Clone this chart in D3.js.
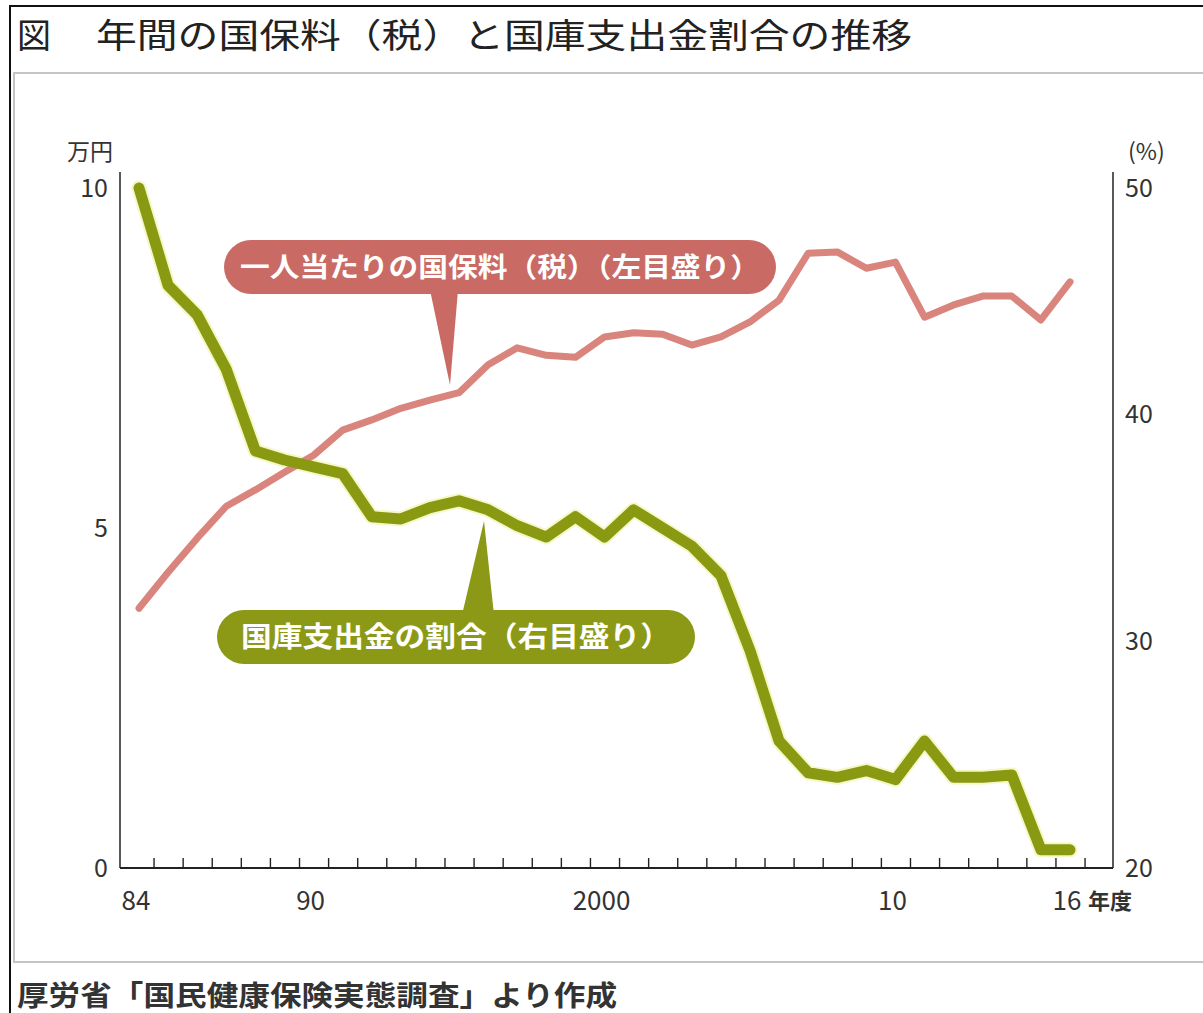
<!DOCTYPE html>
<html><head><meta charset="utf-8">
<script src="https://cdn.jsdelivr.net/npm/d3@7"></script>
<style>
html,body{margin:0;padding:0;background:#fff;}
text{font-family:"Noto Sans CJK JP","Noto Sans",sans-serif;}
</style></head>
<body>
<svg id="c" width="1203" height="1013"></svg>
<script>
// ---- data ----
const years = [1984,1985,1986,1987,1988,1989,1990,1991,1992,1993,1994,1995,1996,1997,1998,1999,
               2000,2001,2002,2003,2004,2005,2006,2007,2008,2009,2010,2011,2012,2013,2014,2015,2016];
// 一人当たりの国保料（税）万円 (left axis)
const premium = [3.82,4.35,4.85,5.32,5.56,5.82,6.07,6.44,6.59,6.76,6.88,6.99,7.40,7.65,7.54,7.51,
                 7.81,7.87,7.85,7.69,7.81,8.03,8.35,9.04,9.06,8.82,8.91,8.10,8.28,8.41,8.41,8.06,8.62];
// 国庫支出金の割合 % (right axis)
const subsidyShare = [50.0,45.7,44.4,42.0,38.4,38.0,37.7,37.4,35.5,35.4,35.9,36.2,35.8,35.1,34.6,35.5,
                      34.6,35.8,35.0,34.2,32.9,29.6,25.6,24.2,24.0,24.3,23.9,25.6,24.0,24.0,24.1,20.8,20.8];
const leftTicks = [0,5,10];
const rightTicks = [20,30,40,50];
const xLabelYears = [1984,1990,2000,2010,2016];
const xLabelTexts = ["84","90","2000","10","16"];
const titleMark = "図";
const titleText = "年間の国保料（税）と国庫支出金割合の推移";
const leftUnit = "万円";
const rightUnit = "(%)";
const xUnit = "年度";
const premiumLabel = "一人当たりの国保料（税）（左目盛り）";
const shareLabel = "国庫支出金の割合（右目盛り）";
const sourceText = "厚労省「国民健康保険実態調査」より作成";

// ---- layout ----
const svg = d3.select("#c");
const axisLeftX = 120, axisRightX = 1113, axisTop = 172, axisBottom = 868;
const x = d3.scaleLinear().domain([1984,2016]).range([139,1070]);
const yL = d3.scaleLinear().domain([0,10]).range([868,188]);
const yR = d3.scaleLinear().domain([20,50]).range([868,188]);

const pink = "#d9857e", pinkDark = "#c96a64";
const green = "#8a9912", greenHalo = "#eef4a0";
const txt = "#333";

// frame
svg.append("rect").attr("x",14).attr("y",73).attr("width",1210).attr("height",889)
  .attr("fill","none").attr("stroke","#c4c4c4").attr("stroke-width",2);
svg.append("line").attr("x1",10).attr("x2",1203).attr("y1",6).attr("y2",6).attr("stroke","#111").attr("stroke-width",2);
svg.append("line").attr("x1",10).attr("x2",10).attr("y1",5).attr("y2",1013).attr("stroke","#111").attr("stroke-width",2);

// title
svg.append("text").attr("x",17).attr("y",48).attr("font-size",34).attr("fill","#222").text(titleMark);
svg.append("text").attr("x",96).attr("y",48).attr("font-size",34).attr("fill","#222")
  .attr("textLength",816).attr("lengthAdjust","spacingAndGlyphs").text(titleText);

// source
svg.append("text").attr("x",17).attr("y",1006).attr("font-size",28).attr("font-weight",700).attr("fill","#333")
  .attr("textLength",600).attr("lengthAdjust","spacingAndGlyphs").text(sourceText);

// axes lines
const g = svg.append("g");
g.append("line").attr("x1",axisLeftX).attr("x2",axisLeftX).attr("y1",axisTop).attr("y2",axisBottom).attr("stroke","#222").attr("stroke-width",1.5);
g.append("line").attr("x1",axisRightX).attr("x2",axisRightX).attr("y1",axisTop).attr("y2",axisBottom).attr("stroke","#222").attr("stroke-width",1.5);

// bottom axis with ticks at year boundaries
const tickPos = years.map(v => v + 0.5);
const bottomAxis = d3.axisBottom(x).tickValues(tickPos).tickSize(-10).tickFormat("");
const gb = g.append("g").attr("transform",`translate(0,${axisBottom})`).call(bottomAxis);
gb.select(".domain").remove();
gb.selectAll(".tick line").attr("stroke","#222").attr("stroke-width",1.4);
g.append("line").attr("x1",axisLeftX).attr("x2",axisRightX).attr("y1",axisBottom).attr("y2",axisBottom).attr("stroke","#222").attr("stroke-width",1.8);

// x labels
const xl = g.append("g");
xLabelYears.forEach((yr,i)=>{
  xl.append("text").attr("x",x(yr)-3).attr("y",910).attr("text-anchor","middle")
    .attr("font-size",26).attr("fill",txt).text(xLabelTexts[i]);
});
xl.append("text").attr("x",1088).attr("y",909).attr("font-size",22).attr("font-weight",700).attr("fill",txt).text(xUnit);

// left axis labels
const la = d3.axisLeft(yL).tickValues(leftTicks).tickSize(0).tickPadding(12);
const gl = g.append("g").attr("transform",`translate(${axisLeftX},0)`).call(la);
gl.select(".domain").remove();
gl.selectAll(".tick text").attr("font-size",25).attr("fill",txt).attr("font-family",'"Noto Sans CJK JP",sans-serif');
g.append("text").attr("x",113).attr("y",160).attr("text-anchor","end").attr("font-size",23).attr("fill",txt).text(leftUnit);

// right axis labels
const ra = d3.axisRight(yR).tickValues(rightTicks).tickSize(0).tickPadding(12);
const gr = g.append("g").attr("transform",`translate(${axisRightX},0)`).call(ra);
gr.select(".domain").remove();
gr.selectAll(".tick text").attr("font-size",25).attr("fill",txt).attr("font-family",'"Noto Sans CJK JP",sans-serif');
g.append("text").attr("x",1128).attr("y",160).attr("font-size",23).attr("fill",txt).text(rightUnit);

// lines
const linePremium = d3.line().x((d,i)=>x(years[i])).y(d=>yL(d));
const lineShare = d3.line().x((d,i)=>x(years[i])).y(d=>yR(d));

svg.append("path").datum(subsidyShare).attr("d",lineShare).attr("fill","none")
  .attr("stroke",greenHalo).attr("stroke-width",15).attr("stroke-linejoin","round").attr("stroke-linecap","round").attr("opacity",0.6);
svg.append("path").datum(premium).attr("d",linePremium).attr("fill","none")
  .attr("stroke",pink).attr("stroke-width",7).attr("stroke-linejoin","round").attr("stroke-linecap","round");
svg.append("path").datum(subsidyShare).attr("d",lineShare).attr("fill","none")
  .attr("stroke",green).attr("stroke-width",11).attr("stroke-linejoin","round").attr("stroke-linecap","round");

// callouts
function callout(cx, cy, w, h, fill, label, fs, tip, baseL, baseR, baseY, tl){
  const c = svg.append("g");
  c.append("path").attr("d",`M${baseL},${baseY} L${tip[0]},${tip[1]} L${baseR},${baseY} Z`).attr("fill",fill);
  c.append("rect").attr("x",cx-w/2).attr("y",cy-h/2).attr("width",w).attr("height",h)
    .attr("rx",h/2).attr("ry",h/2).attr("fill",fill);
  c.append("text").attr("x",cx).attr("y",cy+fs*0.36).attr("text-anchor","middle")
    .attr("font-size",fs).attr("font-weight",700).attr("fill","#fff")
    .attr("textLength",tl).attr("lengthAdjust","spacingAndGlyphs").text(label);
}
callout(500, 267, 552, 54, pinkDark, premiumLabel, 27, [450,385], 430, 458, 290, 520);
callout(456, 637, 478, 54, "#8c9916", shareLabel, 28, [484,521], 462, 494, 615, 430);
</script>
</body></html>
